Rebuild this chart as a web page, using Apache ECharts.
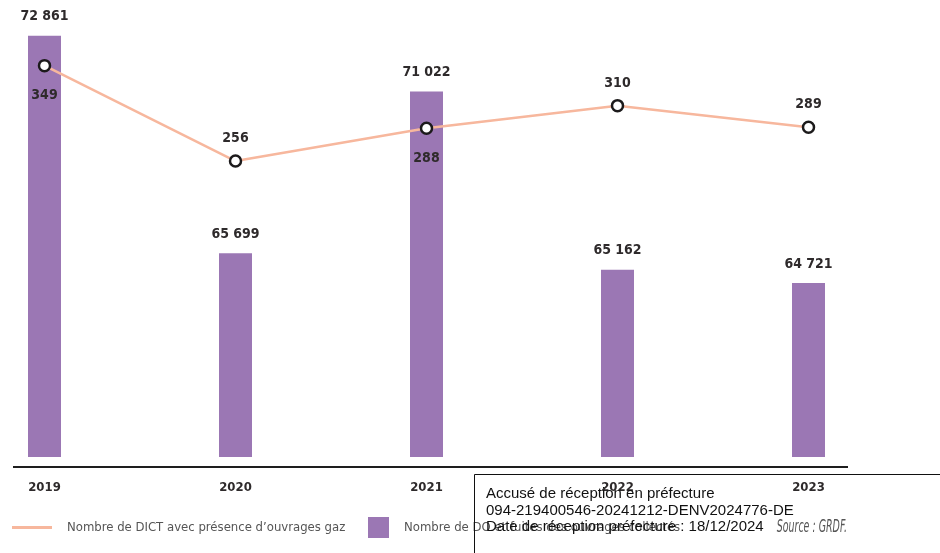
<!DOCTYPE html>
<html lang="fr">
<head>
<meta charset="utf-8">
<title>DICT et DO 2019-2023</title>
<script src="https://cdn.jsdelivr.net/npm/echarts@6/dist/echarts.min.js"></script>
<style>
  html, body { margin: 0; padding: 0; background: #ffffff; }
  #chart { width: 940px; height: 553px; }
</style>
</head>
<body>
<div id="chart"></div>
<script>
// Années et valeurs
const years = ['2019', '2020', '2021', '2022', '2023'];
const doCounts = [72861, 65699, 71022, 65162, 64721];
const dictGaz = [349, 256, 288, 310, 289];
const dictLabelSide = ['bottom', 'top', 'bottom', 'top', 'top'];

const nameDict = 'Nombre de DICT avec présence d’ouvrages gaz';
const nameDo = 'Nombre de DO et fuites des ouvrages collectés';
const stampLines = [
  'Accusé de réception en préfecture',
  '094-219400546-20241212-DENV2024776-DE',
  'Date de réception préfecture : 18/12/2024'
];
const sourceText = 'Source : GRDF.';

const condensed = '"Liberation Sans Narrow", "DejaVu Sans Condensed", sans-serif';
const purple = '#9b77b4';
const salmon = '#f7b79d';
const ink = '#2e2a2b';

// Séparateur de milliers par espace
function groupThousands(v) {
  return String(v).replace(/\B(?=(\d{3})+(?!\d))/g, ' ');
}

const chart = echarts.init(document.getElementById('chart'), null, { renderer: 'canvas' });

chart.setOption({
  backgroundColor: '#ffffff',
  animation: false,
  grid: { left: 44.5, right: 131.5, top: 1, bottom: 96, containLabel: false },
  xAxis: {
    type: 'category',
    data: years,
    boundaryGap: false,
    axisLine: { show: false },
    axisTick: { show: false },
    splitLine: { show: false },
    axisLabel: {
      margin: 24,
      color: ink,
      fontFamily: condensed,
      fontWeight: 'bold',
      fontSize: 13
    }
  },
  yAxis: [
    { type: 'value', min: 59000, max: 74000, show: false, splitLine: { show: false } },
    { type: 'value', min: -32.5, max: 412, show: false, splitLine: { show: false } }
  ],
  legend: [
    {
      left: 12, top: 521, padding: 0,
      itemWidth: 40, itemHeight: 3, itemGap: 0,
      data: [{ name: nameDict, icon: 'rect', itemStyle: { color: salmon, borderWidth: 0 } }],
      textStyle: { color: '#555', fontFamily: condensed, fontSize: 13, padding: [0, 0, 0, 10] },
      selectedMode: false
    },
    {
      left: 368, top: 517, padding: 0,
      itemWidth: 21, itemHeight: 21, itemGap: 0,
      data: [{ name: nameDo, icon: 'rect', itemStyle: { color: purple, borderWidth: 0 } }],
      textStyle: { color: '#555', fontFamily: condensed, fontSize: 13, padding: [0, 0, 0, 10] },
      selectedMode: false
    }
  ],
  series: [
    {
      name: nameDo,
      type: 'bar',
      yAxisIndex: 0,
      data: doCounts,
      barWidth: 33,
      itemStyle: { color: purple },
      label: {
        show: true,
        position: 'top',
        distance: 12,
        color: ink,
        fontFamily: condensed,
        fontWeight: 'bold',
        fontSize: 14,
        formatter: p => groupThousands(p.value)
      },
      z: 2
    },
    {
      name: nameDict,
      type: 'line',
      yAxisIndex: 1,
      data: dictGaz.map((v, i) => ({
        value: v,
        label: { position: dictLabelSide[i], distance: dictLabelSide[i] === 'bottom' ? 16 : 9 }
      })),
      symbol: 'circle',
      symbolSize: 11,
      lineStyle: { color: salmon, width: 2.5 },
      itemStyle: { color: '#ffffff', borderColor: '#1c1a1b', borderWidth: 2.5 },
      label: {
        show: true,
        color: ink,
        fontFamily: condensed,
        fontWeight: 'bold',
        fontSize: 14
      },
      z: 5
    }
  ],
  graphic: [
    // Ligne de base sous les barres
    {
      type: 'line',
      shape: { x1: 13, y1: 467, x2: 848, y2: 467 },
      style: { stroke: '#1e1e1e', lineWidth: 1.8 },
      silent: true
    },
    // Source, en italique resserré
    {
      type: 'text',
      x: 847, y: 528, scaleX: 0.62,
      style: {
        text: sourceText,
        fill: '#555',
        font: 'italic 17px ' + condensed,
        align: 'right',
        verticalAlign: 'middle'
      },
      silent: true
    },
    // Cachet d'accusé de réception
    {
      type: 'rect',
      shape: { x: 474.5, y: 474.5, width: 520, height: 120 },
      style: { fill: 'none', stroke: '#111', lineWidth: 1 },
      z: 100,
      silent: true
    },
    {
      type: 'text',
      left: 486, top: 486,
      style: {
        text: stampLines.join('\n'),
        fill: '#111',
        font: '15px "Liberation Sans", Arial, sans-serif',
        lineHeight: 16.5
      },
      z: 101,
      silent: true
    }
  ]
});
</script>
</body>
</html>
